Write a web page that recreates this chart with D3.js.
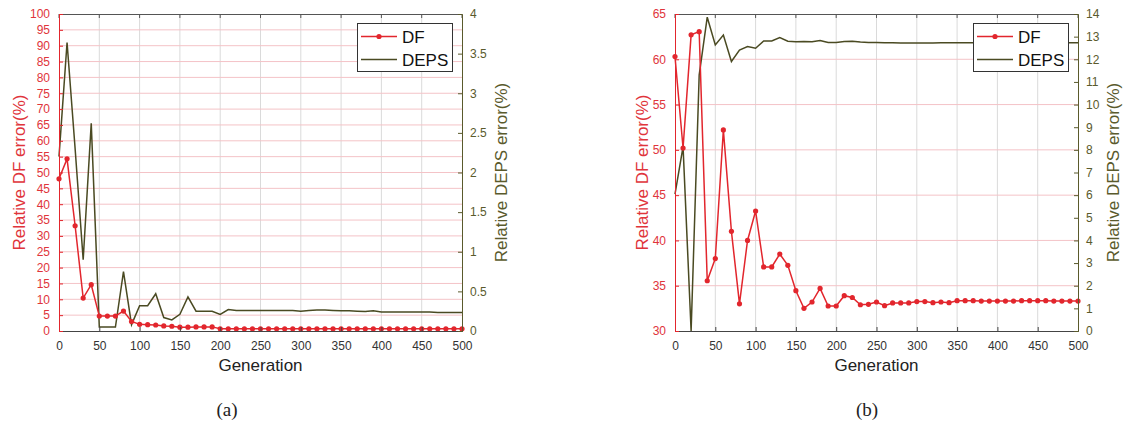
<!DOCTYPE html>
<html>
<head>
<meta charset="utf-8">
<script src="https://cdn.jsdelivr.net/npm/d3@7"></script>
<style>
  body { margin: 0; background: #fff; }
  svg { display: block; font-family: "Liberation Sans", Arial, sans-serif; }
</style>
</head>
<body>
<svg id="chart" width="1124" height="423"></svg>
<script>
// generations, every 10 steps
var generations = d3.range(0, 510, 10);

// panel (a)
var dfA = [48, 54.3, 33.2, 10.4, 14.6, 4.7, 4.7, 4.7, 6.3, 3.0,
           2.1, 2.0, 1.9, 1.6, 1.5, 1.2, 1.2, 1.3, 1.3, 1.3,
           0.7, 0.7, 0.7, 0.7, 0.7, 0.7, 0.7, 0.7, 0.7, 0.7,
           0.7, 0.7, 0.7, 0.7, 0.7, 0.7, 0.7, 0.7, 0.7, 0.7,
           0.7, 0.7, 0.7, 0.7, 0.7, 0.7, 0.7, 0.7, 0.7, 0.7, 0.7];
var depsA = [2.2, 3.64, 2.3, 0.9, 2.62, 0.05, 0.05, 0.05, 0.75, 0.08,
             0.32, 0.32, 0.47, 0.17, 0.14, 0.21, 0.43, 0.25, 0.25, 0.25,
             0.21, 0.27, 0.26, 0.26, 0.26, 0.26, 0.26, 0.26, 0.26, 0.26,
             0.25, 0.26, 0.265, 0.265, 0.26, 0.255, 0.255, 0.25, 0.245, 0.255,
             0.24, 0.24, 0.24, 0.24, 0.24, 0.24, 0.24, 0.235, 0.235, 0.235, 0.235];

// panel (b)
var dfB = [60.3, 50.2, 62.7, 63.05, 35.55, 38.0, 52.2, 41.0, 33.0, 40.0,
           43.25, 37.07, 37.07, 38.5, 37.25, 34.45, 32.5, 33.2, 34.7, 32.76,
           32.76, 33.9, 33.7, 32.9, 32.95, 33.2, 32.8, 33.1, 33.1, 33.1,
           33.25, 33.25, 33.13, 33.2, 33.13, 33.35, 33.35, 33.35, 33.3, 33.3,
           33.3, 33.3, 33.3, 33.35, 33.35, 33.35, 33.35, 33.3, 33.3, 33.3, 33.3];
var depsB = [6.05, 8.14, 0, 11.3, 13.86, 12.63, 13.07, 11.9, 12.41, 12.56,
             12.49, 12.81, 12.81, 12.96, 12.8, 12.77, 12.78, 12.77, 12.83, 12.74,
             12.74, 12.79, 12.8, 12.76, 12.74, 12.74, 12.73, 12.73, 12.72, 12.72,
             12.72, 12.72, 12.72, 12.73, 12.73, 12.73, 12.73, 12.73, 12.73, 12.73,
             12.73, 12.73, 12.73, 12.73, 12.73, 12.73, 12.73, 12.73, 12.73, 12.73, 12.73];

// tick labels
var xTicks = d3.range(0, 550, 50);
var leftTicksA = d3.range(0, 105, 5);
var rightTicksA = [0, 0.5, 1, 1.5, 2, 2.5, 3, 3.5, 4];
var leftTicksB = [30, 35, 40, 45, 50, 55, 60, 65];
var rightTicksB = d3.range(0, 15, 1);
var seriesNames = ["DF", "DEPS"];

const RED = "#e2262d";
const RED_TXT = "#e0343b";
const OLIVE = "#4a4a22";
const OLIVE_TXT = "#5a5a2c";

var svg = d3.select("#chart");

function drawPanel(p) {
    var top = 14, bottom = 331;
    var x = d3.scaleLinear().domain([0, 500]).range([p.left, p.left + 403]);
    var yl = d3.scaleLinear().domain(p.leftDomain).range([bottom, top]);
    var yr = d3.scaleLinear().domain(p.rightDomain).range([bottom, top]);
    var right = p.left + 403;

    var g = svg.append("g");

    // grid: vertical gray, horizontal pink (left axis)
    g.append("g").selectAll("line").data(xTicks.slice(1, -1)).join("line")
        .attr("x1", d => x(d)).attr("x2", d => x(d))
        .attr("y1", top).attr("y2", bottom)
        .attr("stroke", "#dadada").attr("stroke-width", 1);
    g.append("g").selectAll("line").data(p.leftTicks.slice(1, -1)).join("line")
        .attr("x1", p.left).attr("x2", right)
        .attr("y1", d => yl(d)).attr("y2", d => yl(d))
        .attr("stroke", "#f4c3c7").attr("stroke-width", 1);

    // top + bottom frame lines with inward ticks
    g.append("line").attr("x1", p.left).attr("x2", right).attr("y1", top + 0.5).attr("y2", top + 0.5)
        .attr("stroke", "#555").attr("stroke-width", 1);
    g.append("g").selectAll("line").data(xTicks).join("line")
        .attr("x1", d => x(d)).attr("x2", d => x(d)).attr("y1", top).attr("y2", top + 4)
        .attr("stroke", "#555");

    // lines
    var lineL = d3.line().x((d, i) => x(generations[i])).y(d => yl(d));
    var lineR = d3.line().x((d, i) => x(generations[i])).y(d => yr(d));

    g.append("path").datum(p.deps).attr("d", lineR)
        .attr("fill", "none").attr("stroke", OLIVE).attr("stroke-width", 1.5);
    g.append("path").datum(p.df).attr("d", lineL)
        .attr("fill", "none").attr("stroke", RED).attr("stroke-width", 1.5);
    g.append("g").selectAll("circle").data(p.df).join("circle")
        .attr("cx", (d, i) => x(generations[i])).attr("cy", d => yl(d))
        .attr("r", 2.6).attr("fill", RED);

    // bottom axis
    var xAxis = g.append("g").attr("transform", "translate(0," + bottom + ")")
        .call(d3.axisBottom(x).tickValues(xTicks).tickSize(-4).tickPadding(10).tickFormat(d3.format("d")));
    xAxis.select(".domain").attr("stroke", "#444");
    xAxis.selectAll(".tick line").attr("stroke", "#444");
    xAxis.selectAll("text").attr("fill", "#333").style("font-size", "12px");

    // left axis
    var lAxis = g.append("g").attr("transform", "translate(" + p.left + ",0)")
        .call(d3.axisLeft(yl).tickValues(p.leftTicks).tickSize(-4).tickPadding(9).tickFormat(d3.format("~g")));
    lAxis.select(".domain").attr("stroke", RED);
    lAxis.selectAll(".tick line").attr("stroke", RED);
    lAxis.selectAll("text").attr("fill", RED_TXT).style("font-size", "12px");

    // right axis
    var rAxis = g.append("g").attr("transform", "translate(" + right + ",0)")
        .call(d3.axisRight(yr).tickValues(p.rightTicks).tickSize(-4).tickPadding(8).tickFormat(d3.format("~g")));
    rAxis.select(".domain").attr("stroke", OLIVE_TXT);
    rAxis.selectAll(".tick line").attr("stroke", OLIVE_TXT);
    rAxis.selectAll("text").attr("fill", OLIVE_TXT).style("font-size", "12px");

    // axis titles
    g.append("text").attr("x", p.left + 201.5).attr("y", 371)
        .attr("text-anchor", "middle").attr("fill", "#222").style("font-size", "17px")
        .text("Generation");
    g.append("text").attr("transform", "translate(" + (p.left + p.leftLabelDx) + "," + ((top + bottom) / 2) + ") rotate(-90)")
        .attr("text-anchor", "middle").attr("fill", RED_TXT).style("font-size", "17px")
        .text("Relative DF error(%)");
    g.append("text").attr("transform", "translate(" + (right + p.rightLabelDx) + "," + ((top + bottom) / 2) + ") rotate(-90)")
        .attr("text-anchor", "middle").attr("fill", OLIVE_TXT).style("font-size", "17px")
        .text("Relative DEPS error(%)");

    // legend
    var lx = right - 105, ly = 23;
    var leg = g.append("g").attr("transform", "translate(" + lx + "," + ly + ")");
    leg.append("rect").attr("x", 0.5).attr("y", 0.5).attr("width", 95).attr("height", 48)
        .attr("fill", "#fff").attr("stroke", "#333").attr("stroke-width", 1);
    leg.append("line").attr("x1", 4).attr("x2", 40).attr("y1", 13.5).attr("y2", 13.5)
        .attr("stroke", RED).attr("stroke-width", 1.5);
    leg.append("circle").attr("cx", 22).attr("cy", 13.5).attr("r", 2.6).attr("fill", RED);
    leg.append("line").attr("x1", 4).attr("x2", 40).attr("y1", 36.5).attr("y2", 36.5)
        .attr("stroke", OLIVE).attr("stroke-width", 1.5);
    leg.selectAll("text").data(seriesNames).join("text")
        .attr("x", 45).attr("y", (d, i) => 19.5 + i * 23)
        .attr("fill", "#111").style("font-size", "17px")
        .text(d => d);

    // caption
    svg.append("text").attr("x", p.captionX).attr("y", 416)
        .attr("text-anchor", "middle").attr("fill", "#222")
        .style("font-family", "'Liberation Serif', 'Times New Roman', serif").style("font-size", "19px")
        .text(p.caption);
}

drawPanel({
    left: 59, leftDomain: [0, 100], rightDomain: [0, 4],
    leftTicks: leftTicksA, rightTicks: rightTicksA,
    df: dfA, deps: depsA,
    leftLabelDx: -34, rightLabelDx: 45,
    caption: "(a)", captionX: 227
});

drawPanel({
    left: 675, leftDomain: [30, 65], rightDomain: [0, 14],
    leftTicks: leftTicksB, rightTicks: rightTicksB,
    df: dfB, deps: depsB,
    leftLabelDx: -27, rightLabelDx: 41,
    caption: "(b)", captionX: 867
});
</script>
</body>
</html>
